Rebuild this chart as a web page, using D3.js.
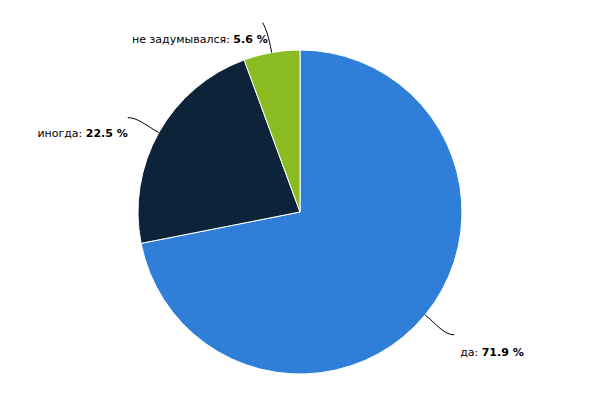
<!DOCTYPE html>
<html><head><meta charset="utf-8">
<script src="https://cdn.jsdelivr.net/npm/d3@7"></script>
<style>body{margin:0;background:#fff}svg{display:block}</style>
</head><body>
<svg id="c" width="600" height="400"></svg>
<script>
const categories = ["да", "иногда", "не задумывался"];
const values = [71.9, 22.5, 5.6];
const colors = ["#2f7ed8", "#0d233a", "#8bbc21"];

const W = 600, H = 400, cx = 300, cy = 212, R = 162;
const svg = d3.select("#c");
const data = categories.map((c, i) => ({ name: c, value: values[i], color: colors[i] }));
const pie = d3.pie().sort(null).value(d => d.value);
const arc = d3.arc().innerRadius(0).outerRadius(R);
const arcs = pie(data);
const g = svg.append("g").attr("transform", `translate(${cx},${cy})`);
g.selectAll("path.s").data(arcs).enter().append("path")
  .attr("class", "s").attr("d", arc)
  .attr("fill", d => d.data.color)
  .attr("stroke", "#fff").attr("stroke-width", 1).attr("stroke-linejoin", "round");

// label layout: endpoint offsets (dx,dy) relative to edge point, text anchor side
const layout = [
  { ex: 29, ey: 20, tx: 6, ty: 21, anchor: "start" },
  { ex: -31, ey: -15, tx: 0, ty: 19, anchor: "end" },
  { ex: -9, ey: -30, tx: 5, ty: 20, anchor: "end" }
];
arcs.forEach((a, i) => {
  const m = (a.startAngle + a.endAngle) / 2;
  const ux = Math.sin(m), uy = -Math.cos(m);
  const sx = ux * R, sy = uy * R;
  const L = layout[i];
  const ex = sx + L.ex, ey = sy + L.ey;
  const c1x = sx + ux * 14, c1y = sy + uy * 14;
  const side = L.anchor === "start" ? 1 : -1;
  const c2x = ex - side * 10, c2y = ey;
  let d;
  if (i === 2) {
    d = `M${sx},${sy} C${sx + ux * 18},${sy + uy * 18} ${ex + 3},${ey + 6} ${ex},${ey}`;
  } else {
    d = `M${sx},${sy} C${c1x},${c1y} ${c2x},${c2y} ${ex},${ey}`;
  }
  g.append("path").attr("d", d).attr("fill", "none").attr("stroke", "#000").attr("stroke-width", 1);
  const t = g.append("text")
    .attr("x", ex + L.tx).attr("y", ey + L.ty)
    .attr("text-anchor", L.anchor)
    .style("font-family", "'DejaVu Sans', sans-serif").style("font-size", "11px").attr("fill", "#000");
  t.append("tspan").text(a.data.name + ": ");
  t.append("tspan").style("font-weight", "bold").text(d3.format(".1f")(a.data.value) + " %");
});
</script>
</body></html>
